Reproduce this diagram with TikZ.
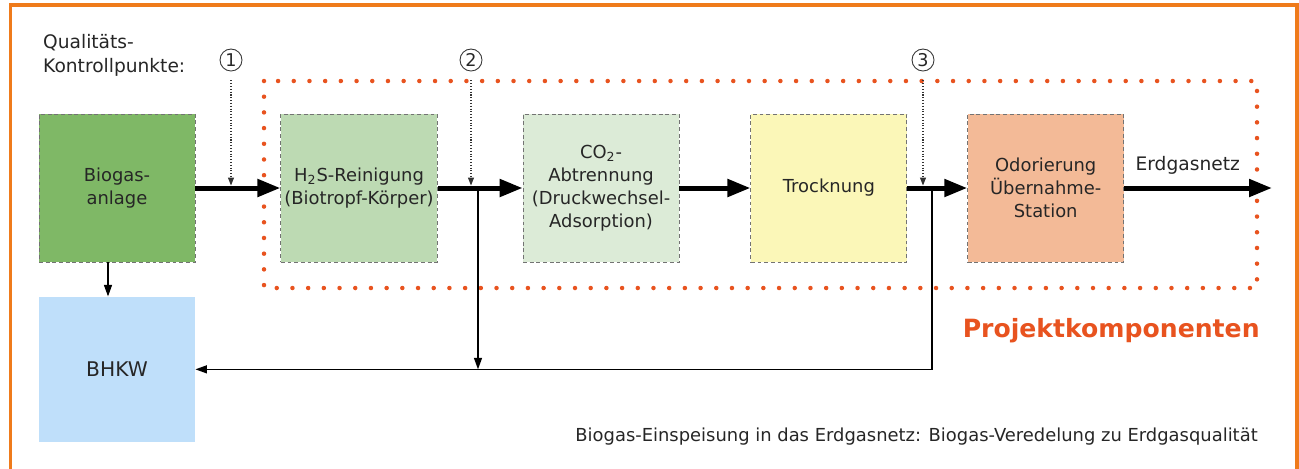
\documentclass[tikz,border=0pt]{standalone}
\usepackage{fontspec}
\setmainfont{DejaVu Sans}
\usepackage{xcolor}
\usetikzlibrary{positioning,arrows.meta,calc}
\definecolor{rim}{HTML}{EF7B1B}
\definecolor{proj}{HTML}{E8531F}
\definecolor{ink}{HTML}{262626}
\definecolor{biogas}{HTML}{7FB866}
\definecolor{hs}{HTML}{BDDAB3}
\definecolor{cotwo}{HTML}{DCEBD7}
\definecolor{dry}{HTML}{FBF7B8}
\definecolor{odor}{HTML}{F3BA97}
\definecolor{chp}{HTML}{BFDFFA}
\tikzset{
  stage/.style    = {rectangle, draw=black!55, dash pattern=on 2.2pt off 1.6pt, line width=0.5pt,
                     align=center, text=ink, font=\fontsize{10.2}{13.2}\selectfont,
                     minimum width=31.2mm, minimum height=29.6mm, inner sep=2pt},
  mainflow/.style = {-{Triangle[length=4.6mm,width=3.4mm]}, line width=1mm, draw=black},
  sideflow/.style = {-{Triangle[length=2.3mm,width=1.6mm]}, line width=0.7pt, draw=black},
  probe/.style    = {-{Triangle[length=1.6mm,width=1.2mm]}, densely dotted, line width=0.6pt,
                     draw=black!80, shorten <=1.8mm},
  ptmark/.style   = {circle, draw=black!80, line width=0.5pt, minimum size=4.4mm, inner sep=0pt,
                     font=\fontsize{10}{12}\selectfont, text=ink},
  projbox/.style  = {draw=proj, line width=0.9mm, line cap=round, dash pattern=on 0pt off 3.14mm},
  lbl/.style      = {text=ink, font=\fontsize{10.6}{13.6}\selectfont},
}

\begin{document}
\begin{tikzpicture}[x=0.02cm, y=-0.02cm]
  \useasboundingbox (0,0) rectangle (1299,468);
  % outer frame and project area
  \draw[rim, line width=0.08cm] (10.5,470) -- (10.5,5) -- (1297,5) -- (1297,470);
  \draw[projbox] (264,81) rectangle (1257,288);

  \node[lbl, align=left, anchor=west] (qk) at (37,55) {Qualitäts-\\Kontrollpunkte:};

  \node[stage, fill=biogas] (bio) at (117,188) {Biogas-\\anlage};
  \node[stage, fill=hs, right=17mm of bio] (hs) {H\textsubscript{2}S-Reinigung\\(Biotropf-Körper)};
  \node[stage, fill=cotwo, right=17mm of hs] (co) {CO\textsubscript{2}-\\Abtrennung\\(Druckwechsel-\\Adsorption)};
  \node[stage, fill=dry, right=14.2mm of co] (tro) {Trocknung};
  \node[stage, fill=odor, right=12mm of tro] (odo) {Odorierung\\Übernahme-\\Station};
  \node[stage, fill=chp, draw=none, below=6.8mm of bio, minimum height=29mm,
        font=\fontsize{11.5}{13.2}\selectfont] (bhkw) {BHKW};

  \coordinate (netz) at (1272,188);
  \coordinate (j2) at (478,188);
  \coordinate (j3) at (932,188);

  \draw[mainflow] (bio) -- (hs); \draw[mainflow] (hs) -- (co); \draw[mainflow] (co) -- (tro);
  \draw[mainflow] (tro) -- (odo);
  \draw[mainflow] (odo) -- node[lbl, above=1mm, pos=0.43] (netzlbl) {Erdgasnetz} (netz);

  % gas to the CHP unit
  \draw[sideflow] ([xshift=-1.8mm]bio.south) -- ([xshift=-1.8mm]bhkw.north);
  \draw[sideflow] (j2) -- (j2 |- bhkw.east);
  \draw[sideflow] (j3) |- (bhkw.east);

  % quality check points
  \node[ptmark] (p1) at (231,60) {1};
  \node[ptmark] (p2) at (471,60) {2};
  \node[ptmark] (p3) at (923,60) {3};
  \coordinate (q1) at (231,185.5);
  \coordinate (q2) at (471,185.5);
  \coordinate (q3) at (923,185.5);
  \draw[probe] (p1) -- (q1); \draw[probe] (p2) -- (q2); \draw[probe] (p3) -- (q3);

  \node[font=\fontsize{14.3}{16}\selectfont\bfseries, text=proj, anchor=east, inner sep=0pt] (projlbl)
    at (1260,331) {Projektkomponenten};
  \node[lbl, font=\fontsize{10.2}{12}\selectfont, anchor=east, inner sep=0pt] (cap) at (1258,437)
    {Biogas-Einspeisung in das Erdgasnetz: Biogas-Veredelung zu Erdgasqualität};
\end{tikzpicture}
\end{document}
